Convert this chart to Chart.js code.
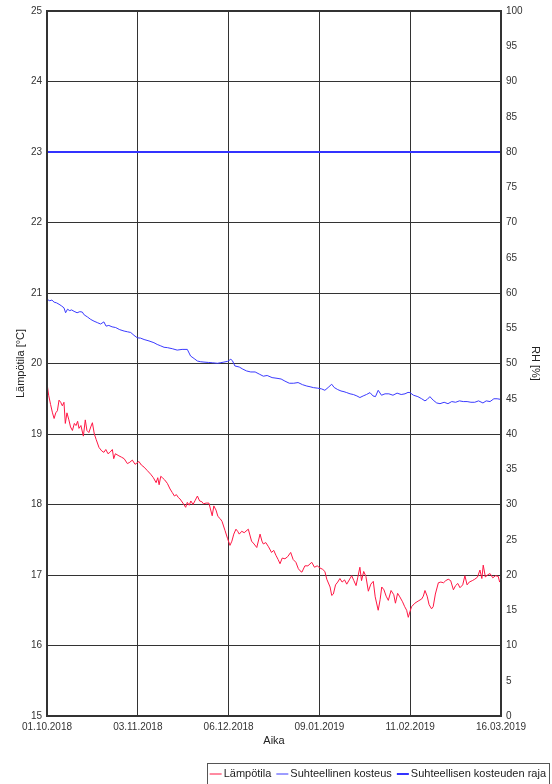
<!DOCTYPE html>
<html>
<head>
<meta charset="utf-8">
<title>Lämpötila ja kosteus</title>
<script src="https://cdn.jsdelivr.net/npm/chart.js@4/dist/chart.umd.min.js"></script>
<style>
  html, body { margin: 0; padding: 0; background: #fff; }
  #wrap { width: 552px; height: 784px; }
</style>
</head>
<body>
<div id="wrap"><canvas id="chart" width="552" height="784"></canvas></div>
<script>
// X axis: days since 01.10.2018
const tickDays = [0, 33.2, 66.4, 99.6, 132.8, 166];
const tickLabels = ['01.10.2018', '03.11.2018', '06.12.2018', '09.01.2019', '11.02.2019', '16.03.2019'];

// Lämpötila [°C]
const tempDays = [
  0, 0.6, 1.3, 2.0, 2.6, 3.2, 3.8, 4.4, 5.0, 5.6, 6.2, 6.7, 7.3, 8.0, 8.6, 9.3, 10.0, 10.6, 11.2, 11.7,
  12.4, 13.3, 14.0, 14.6, 15.3, 16.0, 16.6, 17.3, 18.0, 19.0, 20.0, 20.8, 21.5, 22.3, 23.0, 23.9, 24.4, 25.0, 26.3, 27.3,
  28.2, 29.4, 30.3, 31.2, 32.2, 33.6, 34.5, 35.5, 36.7, 37.9, 38.9, 39.9, 40.5, 41.0, 41.6, 42.2, 43.0, 44.0, 45.0, 45.8,
  46.6, 47.3, 48.0, 48.6, 49.7, 50.7, 51.3, 52.0, 52.6, 53.4, 54.2, 55.0, 55.8, 56.6, 57.2, 58.2, 59.2, 60.4, 61.0, 61.8,
  62.5, 63.3, 64.0, 65.1, 66.0, 66.9, 67.6, 68.3, 69.1, 69.7, 70.3, 71.2, 72.1, 73.6, 74.8, 75.7, 76.7, 77.9, 78.6, 79.1,
  80.0, 81.0, 82.1, 82.9, 83.7, 84.5, 85.2, 86.0, 87.0, 88.0, 89.1, 90.0, 91.0, 91.9, 92.5, 93.2, 94.3, 95.4, 96.8, 97.8,
  98.8, 99.8, 100.8, 101.6, 102.3, 103.5, 104.1, 104.7, 105.5, 106.3, 107.1, 107.9, 108.8, 109.6, 110.5, 111.4, 112.2, 113.0, 113.6, 114.4,
  115.0, 115.8, 116.6, 117.5, 118.4, 119.3, 120.0, 121.1, 121.8, 122.4, 123.2, 124.0, 124.8, 125.8, 126.8, 127.4, 128.2, 129.0, 130.0, 130.8,
  131.5, 132.1, 132.7, 133.3, 134.5, 135.7, 137.0, 137.6, 138.2, 139.0, 139.7, 140.6, 141.2, 142.0, 143.1, 144.0, 145.0, 145.8, 146.7, 147.6,
  148.6, 149.4, 150.2, 151.0, 152.0, 152.8, 153.6, 154.4, 155.5, 156.4, 157.4, 158.3, 159.0, 159.5, 160.3, 161.0, 162.0, 163.0, 164.0, 165.0,
  165.5, 166.0
];
const tempValues = [
  19.72, 19.55, 19.42, 19.30, 19.22, 19.30, 19.33, 19.48, 19.45, 19.40, 19.45, 19.15, 19.30, 19.20, 19.10, 19.05, 19.15, 19.12, 19.18, 19.08,
  19.12, 18.97, 19.20, 19.05, 19.02, 19.10, 19.16, 19.00, 18.92, 18.81, 18.76, 18.74, 18.78, 18.72, 18.74, 18.78, 18.65, 18.72, 18.69, 18.67,
  18.65, 18.58, 18.60, 18.63, 18.57, 18.61, 18.56, 18.53, 18.48, 18.43, 18.38, 18.31, 18.38, 18.28, 18.40, 18.38, 18.35, 18.30, 18.22, 18.17,
  18.12, 18.14, 18.10, 18.08, 18.02, 17.96, 18.03, 17.99, 18.05, 18.00, 18.06, 18.12, 18.05, 18.04, 18.01, 18.02, 18.02, 17.84, 17.98, 17.92,
  17.83, 17.80, 17.76, 17.63, 17.52, 17.42, 17.48, 17.58, 17.65, 17.62, 17.58, 17.62, 17.60, 17.65, 17.48, 17.44, 17.39, 17.58, 17.48, 17.44,
  17.46, 17.40, 17.32, 17.35, 17.28, 17.22, 17.16, 17.24, 17.23, 17.26, 17.32, 17.22, 17.18, 17.09, 17.06, 17.04, 17.13, 17.13, 17.18, 17.11,
  17.13, 17.10, 17.08, 17.05, 16.94, 16.83, 16.71, 16.73, 16.86, 16.90, 16.95, 16.90, 16.93, 16.87, 16.93, 16.99, 16.92, 16.85, 16.96, 17.11,
  16.92, 17.05, 16.98, 16.77, 16.87, 16.91, 16.69, 16.50, 16.65, 16.83, 16.79, 16.70, 16.64, 16.78, 16.72, 16.60, 16.74, 16.69, 16.62, 16.55,
  16.50, 16.40, 16.48, 16.55, 16.60, 16.63, 16.66, 16.70, 16.78, 16.70, 16.58, 16.52, 16.55, 16.73, 16.89, 16.90, 16.89, 16.92, 16.94, 16.92,
  16.79, 16.85, 16.88, 16.82, 16.86, 16.99, 16.86, 16.90, 16.92, 16.94, 16.97, 17.07, 16.95, 17.14, 16.97, 17.00, 17.02, 16.96, 16.99, 16.98,
  16.90, 16.93
];

// Suhteellinen kosteus [%]
const rhDays = [
  0, 1.0, 1.8, 2.6, 3.5, 4.4, 5.2, 6.2, 6.8, 7.5, 8.3, 9.0, 9.9, 11.0, 12.0, 12.9, 13.6, 14.8, 16.0, 17.2,
  18.4, 19.6, 20.8, 21.6, 22.6, 23.8, 25.1, 26.6, 28.2, 29.4, 30.6, 31.8, 33.0, 34.2, 35.5, 37.3, 39.1, 40.3, 41.6, 42.8,
  44.0, 45.8, 47.6, 49.4, 51.3, 52.5, 53.8, 55.0, 56.2, 57.4, 59.0, 60.6, 62.3, 63.3, 64.7, 66.0, 67.2, 67.8, 68.7, 70.3,
  71.6, 73.0, 74.5, 76.1, 77.6, 79.1, 80.5, 82.3, 84.1, 85.6, 87.0, 88.6, 90.2, 91.8, 93.4, 95.0, 96.2, 97.4, 99.0, 100.4,
  101.6, 102.8, 104.1, 105.0, 106.3, 107.5, 108.6, 109.6, 110.8, 112.0, 113.3, 114.4, 115.6, 116.8, 118.1, 119.2, 120.1, 121.1, 122.3, 123.6,
  125.0, 126.5, 128.0, 129.5, 130.9, 132.0, 132.7, 134.0, 135.6, 137.0, 138.2, 139.0, 140.0, 141.2, 142.5, 143.7, 145.2, 146.6, 148.0, 149.4,
  150.8, 152.2, 153.6, 155.0, 156.4, 157.8, 159.4, 160.6, 162.0, 163.4, 164.6, 166.0
];
const rhValues = [
  59.1, 58.9, 59.0, 58.7, 58.6, 58.4, 58.2, 57.9, 57.2, 57.7, 57.5, 57.6, 57.4, 57.2, 57.35, 57.3, 56.9, 56.6, 56.25, 56.0,
  55.8, 55.6, 55.9, 55.3, 55.4, 55.2, 55.1, 54.8, 54.6, 54.5, 54.4, 54.0, 53.65, 53.6, 53.4, 53.2, 52.95, 52.7, 52.5, 52.3,
  52.25, 52.1, 51.9, 52.0, 52.0, 51.06, 50.7, 50.35, 50.25, 50.2, 50.15, 50.1, 50.03, 50.1, 50.2, 50.3, 50.6, 50.4, 49.65, 49.5,
  49.2, 48.94, 48.8, 48.8, 48.5, 48.2, 48.3, 48.0, 47.9, 47.8, 47.5, 47.2, 47.2, 47.3, 47.0, 46.8, 46.7, 46.58, 46.5, 46.4,
  46.2, 46.6, 47.06, 46.6, 46.3, 46.1, 46.0, 45.87, 45.7, 45.6, 45.4, 45.17, 45.4, 45.6, 45.87, 45.4, 45.3, 46.2, 45.5, 45.7,
  45.7, 45.5, 45.8, 45.6, 45.7, 45.9, 45.87, 45.5, 45.3, 45.0, 44.7, 44.9, 45.3, 44.8, 44.4, 44.3, 44.5, 44.3, 44.6, 44.5,
  44.7, 44.6, 44.6, 44.5, 44.5, 44.7, 44.4, 44.7, 44.6, 45.0, 45.0, 44.9
];

// Suhteellisen kosteuden raja [%]
const limitDays = [0, 166];
const limitValues = [80, 80];

const FONT = "'Liberation Sans', Arial, sans-serif";
const GRID = '#333333';

function toPoints(xs, ys) {
  return xs.map((x, i) => ({ x: x, y: ys[i] }));
}

/**
 * White page background
 */
const background = {
  id: 'background',
  beforeDraw(chart) {
    const ctx = chart.ctx;
    ctx.save();
    ctx.fillStyle = '#ffffff';
    ctx.fillRect(0, 0, chart.width, chart.height);
    ctx.restore();
  }
};

/**
 * Thick frame round the plot and a boxed legend at the bottom right
 */
const frameAndLegend = {
  id: 'frameAndLegend',
  afterDraw(chart) {
    const ctx = chart.ctx;
    const a = chart.chartArea;
    ctx.save();
    ctx.strokeStyle = GRID;
    ctx.lineWidth = 2;
    ctx.strokeRect(a.left, a.top, a.right - a.left, a.bottom - a.top);

    // legend
    ctx.font = '11px ' + FONT;
    ctx.textBaseline = 'middle';
    const swatch = 12, gapText = 2, gapItem = 5, pad = 3;
    const items = chart.data.datasets.map(ds => ({
      label: ds.label, color: ds.borderColor, width: ds.borderWidth
    }));
    let total = pad * 2;
    items.forEach((it, i) => {
      it.textWidth = ctx.measureText(it.label).width;
      total += swatch + gapText + it.textWidth + (i < items.length - 1 ? gapItem : 0);
    });
    const right = 549;
    const left = right - total;
    const top = 763;
    const cy = 774;
    ctx.fillStyle = '#ffffff';
    ctx.fillRect(left, top, total, 40);
    ctx.lineWidth = 1;
    ctx.strokeStyle = '#555555';
    ctx.strokeRect(Math.round(left) + 0.5, top + 0.5, Math.round(total), 40);

    let x = left + pad;
    items.forEach(it => {
      ctx.strokeStyle = it.color;
      ctx.lineWidth = it.width;
      ctx.beginPath();
      ctx.moveTo(x, cy);
      ctx.lineTo(x + swatch, cy);
      ctx.stroke();
      x += swatch + gapText;
      ctx.fillStyle = '#222222';
      ctx.fillText(it.label, x, cy);
      x += it.textWidth + gapItem;
    });
    ctx.restore();
  }
};

const ctx = document.getElementById('chart').getContext('2d');
const chart = new Chart(ctx, {
  type: 'line',
  data: {
    datasets: [
      {
        label: 'Lämpötila',
        data: toPoints(tempDays, tempValues),
        yAxisID: 'y',
        borderColor: '#ff1744',
        borderWidth: 1,
        pointRadius: 0,
        tension: 0
      },
      {
        label: 'Suhteellinen kosteus',
        data: toPoints(rhDays, rhValues),
        yAxisID: 'y1',
        borderColor: '#3b3bff',
        borderWidth: 1,
        pointRadius: 0,
        tension: 0
      },
      {
        label: 'Suhteellisen kosteuden raja',
        data: toPoints(limitDays, limitValues),
        yAxisID: 'y1',
        borderColor: '#3333ff',
        borderWidth: 2,
        pointRadius: 0,
        tension: 0
      }
    ]
  },
  options: {
    responsive: false,
    devicePixelRatio: 1,
    animation: false,
    layout: { padding: { top: 9, left: 0, right: 0, bottom: 36 } },
    plugins: {
      legend: { display: false },
      tooltip: { enabled: false }
    },
    scales: {
      x: {
        type: 'linear',
        min: 0,
        max: 166,
        afterBuildTicks(scale) {
          scale.ticks = tickDays.map(v => ({ value: v }));
        },
        afterFit(scale) { scale.height = 32; },
        ticks: {
          autoSkip: false,
          maxRotation: 0,
          padding: 5,
          color: '#333333',
          font: { family: FONT, size: 10 },
          callback: (v, i) => tickLabels[i]
        },
        grid: { color: GRID, lineWidth: 1, drawTicks: false },
        border: { display: false },
        title: {
          display: true,
          text: 'Aika',
          color: '#222222',
          font: { family: FONT, size: 11 },
          padding: 0
        }
      },
      y: {
        position: 'left',
        min: 15,
        max: 25,
        afterFit(scale) { scale.width = 47; },
        ticks: {
          stepSize: 1,
          padding: 5,
          color: '#333333',
          font: { family: FONT, size: 10 }
        },
        grid: { color: GRID, lineWidth: 1, drawTicks: false },
        border: { display: false },
        title: {
          display: true,
          text: 'Lämpötila [°C]',
          color: '#222222',
          font: { family: FONT, size: 11 },
          padding: { top: 14, bottom: 0 }
        }
      },
      y1: {
        position: 'right',
        min: 0,
        max: 100,
        afterFit(scale) { scale.width = 51; },
        ticks: {
          stepSize: 5,
          padding: 5,
          color: '#333333',
          font: { family: FONT, size: 10 }
        },
        grid: { display: false, drawTicks: false },
        border: { display: false },
        title: {
          display: true,
          text: 'RH [%]',
          color: '#222222',
          font: { family: FONT, size: 11 },
          padding: { top: 10, bottom: 0 }
        }
      }
    }
  },
  plugins: [background, frameAndLegend]
});
</script>
</body>
</html>
